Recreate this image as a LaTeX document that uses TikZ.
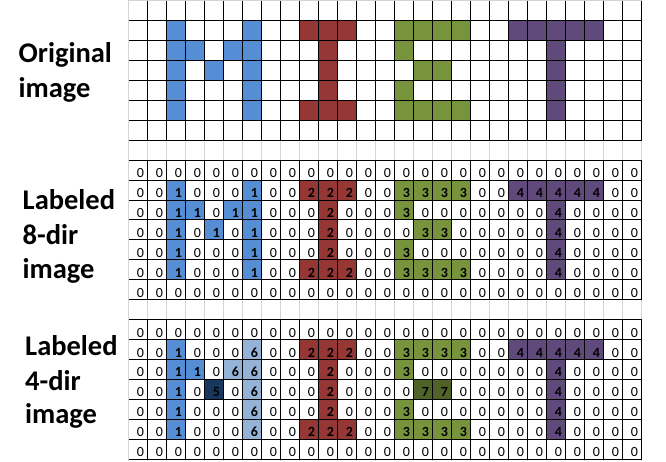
\documentclass[tikz,border=0pt]{standalone}
\usepackage{fontspec}
\setmainfont{Carlito}
\definecolor{c1}{RGB}{85,142,213}
\definecolor{c2}{RGB}{149,55,53}
\definecolor{c3}{RGB}{119,147,60}
\definecolor{c4}{RGB}{96,74,123}
\definecolor{c5}{RGB}{23,55,94}
\definecolor{c6}{RGB}{149,179,215}
\definecolor{c7}{RGB}{79,98,40}
\definecolor{xlgrid}{RGB}{212,212,212}
\def\GX{128.7}
\def\GW{19}
\def\GH{19.95}
\def\GTOP{0.5}
\newcommand\mygrid[4]{% #1 start row, #2 name prefix, #3 show text (1/0), #4 rows
  \foreach \rowdata [count=\r from 0] in {#4} {
    \edef\rowlist{\rowdata}
    \foreach \v [count=\c from 0] in \rowlist {
      \pgfmathsetmacro{\xa}{\GX+\c*\GW}
      \pgfmathsetmacro{\ya}{\GTOP+(#1+\r)*\GH}
      \ifnum\v>0
        \fill[c\v] (\xa,\ya) rectangle ++(\GW,\GH);
      \fi
      \ifnum#3=1
        \ifnum\v>0
          \node[digit, font=\fontsize{14}{15}\selectfont\bfseries, anchor=base east] (#2-\r-\c) at (\xa+\GW-3.6,\ya+\GH-2.6) {\v};
        \else
          \node[digit, anchor=base east] (#2-\r-\c) at (\xa+\GW-3.6,\ya+\GH-2.6) {\v};
        \fi
      \fi
    }
  }
  % black lines
  \foreach \k in {0,...,7} {
    \ifnum#1=0 \ifnum\k=0 \else
      \draw[blackline] (\GX,{\GTOP+(#1+\k)*\GH}) -- ++(27*\GW,0);
    \fi \else
      \draw[blackline] (\GX,{\GTOP+(#1+\k)*\GH}) -- ++(27*\GW,0);
    \fi
  }
  \foreach \i in {1,...,27} {
    \draw[blackline] ({\GX+\i*\GW},{\GTOP+#1*\GH}) -- ++(0,7*\GH);
  }
}
\begin{document}
\begin{tikzpicture}[x=1pt,y=-1pt,
  digit/.style={inner sep=0pt, font=\fontsize{14}{15}\selectfont},
  lbl/.style={inner sep=0pt, font=\fontsize{28.5}{33}\selectfont\bfseries},
  blackline/.style={black, line width=1pt},
  xlline/.style={xlgrid, line width=0.9pt}]
\useasboundingbox[fill=white] (0,0) rectangle (666,461);
% spreadsheet gridlines
\foreach \i in {0,...,27} {
  \draw[xlline] ({\GX+\i*\GW},0) -- ({\GX+\i*\GW},461);
}
\draw[xlline] (\GX,\GTOP) -- ++(27*\GW,0);
% original image
\mygrid{0}{o}{0}{
 {0,0,0,0,0,0,0,0,0,0,0,0,0,0,0,0,0,0,0,0,0,0,0,0,0,0,0},
 {0,0,1,0,0,0,1,0,0,2,2,2,0,0,3,3,3,3,0,0,4,4,4,4,4,0,0},
 {0,0,1,1,0,1,1,0,0,0,2,0,0,0,3,0,0,0,0,0,0,0,4,0,0,0,0},
 {0,0,1,0,1,0,1,0,0,0,2,0,0,0,0,3,3,0,0,0,0,0,4,0,0,0,0},
 {0,0,1,0,0,0,1,0,0,0,2,0,0,0,3,0,0,0,0,0,0,0,4,0,0,0,0},
 {0,0,1,0,0,0,1,0,0,2,2,2,0,0,3,3,3,3,0,0,0,0,4,0,0,0,0},
 {0,0,0,0,0,0,0,0,0,0,0,0,0,0,0,0,0,0,0,0,0,0,0,0,0,0,0}}
% labeled 8-dir
\mygrid{8}{e}{1}{
 {0,0,0,0,0,0,0,0,0,0,0,0,0,0,0,0,0,0,0,0,0,0,0,0,0,0,0},
 {0,0,1,0,0,0,1,0,0,2,2,2,0,0,3,3,3,3,0,0,4,4,4,4,4,0,0},
 {0,0,1,1,0,1,1,0,0,0,2,0,0,0,3,0,0,0,0,0,0,0,4,0,0,0,0},
 {0,0,1,0,1,0,1,0,0,0,2,0,0,0,0,3,3,0,0,0,0,0,4,0,0,0,0},
 {0,0,1,0,0,0,1,0,0,0,2,0,0,0,3,0,0,0,0,0,0,0,4,0,0,0,0},
 {0,0,1,0,0,0,1,0,0,2,2,2,0,0,3,3,3,3,0,0,0,0,4,0,0,0,0},
 {0,0,0,0,0,0,0,0,0,0,0,0,0,0,0,0,0,0,0,0,0,0,0,0,0,0,0}}
% labeled 4-dir
\mygrid{16}{f}{1}{
 {0,0,0,0,0,0,0,0,0,0,0,0,0,0,0,0,0,0,0,0,0,0,0,0,0,0,0},
 {0,0,1,0,0,0,6,0,0,2,2,2,0,0,3,3,3,3,0,0,4,4,4,4,4,0,0},
 {0,0,1,1,0,6,6,0,0,0,2,0,0,0,3,0,0,0,0,0,0,0,4,0,0,0,0},
 {0,0,1,0,5,0,6,0,0,0,2,0,0,0,0,7,7,0,0,0,0,0,4,0,0,0,0},
 {0,0,1,0,0,0,6,0,0,0,2,0,0,0,3,0,0,0,0,0,0,0,4,0,0,0,0},
 {0,0,1,0,0,0,6,0,0,2,2,2,0,0,3,3,3,3,0,0,0,0,4,0,0,0,0},
 {0,0,0,0,0,0,0,0,0,0,0,0,0,0,0,0,0,0,0,0,0,0,0,0,0,0,0}}
% labels
\node[lbl, anchor=base west] (oa) at (18.5,62) {Original};
\node[lbl, anchor=base west] (ob) at (18.5,97) {image};
\node[lbl, anchor=base west] (ea) at (22.5,209) {Labeled};
\node[lbl, anchor=base west] (eb) at (22.5,244) {8-dir};
\node[lbl, anchor=base west] (ec) at (22.5,278) {image};
\node[lbl, anchor=base west] (fa) at (25,355) {Labeled};
\node[lbl, anchor=base west] (fb) at (25,390) {4-dir};
\node[lbl, anchor=base west] (fc) at (25,423) {image};
\end{tikzpicture}
\end{document}
